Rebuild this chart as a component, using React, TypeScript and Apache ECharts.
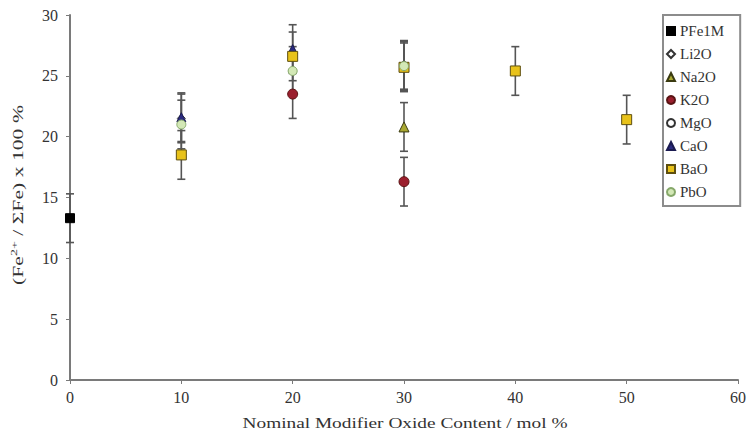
import React, { useEffect, useRef } from "react";
import * as echarts from "echarts";

// ---- data ----
const xTickValues = [0, 10, 20, 30, 40, 50, 60];
const pfe1m = [[0, 13.3]];
const li2o = [[10, 21.5]];
const na2o = [[30, 20.8]];
const k2o = [[20, 23.5], [30, 16.3]];
const mgo = [[30, 25.9]];
const cao = [[10, 21.6], [20, 27.2]];
const bao = [[10, 18.5], [20, 26.6], [30, 25.7], [40, 25.4], [50, 21.4]];
const pbo = [[10, 21.0], [20, 25.4], [30, 25.8]];
const errorHalfWidth = 2;
const xTitle = "Nominal Modifier Oxide Content / mol %";
const yTitle = "(Fe{sup|2+} / ΣFe) x 100 %";

const seriesDefs = [
  { name: "PFe1M", data: pfe1m, symbol: "rect", size: 9, fill: "#000000", border: "#000000" },
  { name: "Li2O", data: li2o, symbol: "diamond", size: 8, fill: "#ffffff", border: "#333333" },
  { name: "Na2O", data: na2o, symbol: "triangle", size: 10, fill: "#a9a832", border: "#3a3a10" },
  { name: "K2O", data: k2o, symbol: "circle", size: 10, fill: "#9b1f2e", border: "#5a1414" },
  { name: "MgO", data: mgo, symbol: "circle", size: 7, fill: "#ffffff", border: "#333333" },
  { name: "CaO", data: cao, symbol: "triangle", size: 9, fill: "#2b2b80", border: "#1a1a50" },
  { name: "BaO", data: bao, symbol: "rect", size: 10, fill: "#e8c21a", border: "#5e4f10" },
  { name: "PbO", data: pbo, symbol: "circle", size: 9, fill: "#d3e8b6", border: "#86a86a" },
];

export default function App() {
  const ref = useRef<HTMLDivElement>(null);
  useEffect(() => {
    if (!ref.current) return;
    const chart = echarts.init(ref.current, undefined, { renderer: "svg" });
    const errData: number[][] = [];
    seriesDefs.forEach((s) =>
      s.data.forEach((p) => errData.push([p[0], p[1] - errorHalfWidth, p[1] + errorHalfWidth]))
    );
    const serif = "'Liberation Serif', 'Times New Roman', serif";
    const option: any = {
      animation: false,
      backgroundColor: "#ffffff",
      grid: { left: 70, right: 9, top: 15, bottom: 59, containLabel: false },
      legend: {
        orient: "vertical",
        left: 663,
        top: 15,
        padding: [8, 16, 6, 3],
        itemWidth: 8,
        itemHeight: 8,
        itemGap: 7,
        backgroundColor: "#ffffff",
        borderColor: "#8c8c8c",
        borderWidth: 2,
        textStyle: { fontFamily: serif, fontSize: 15, lineHeight: 16, color: "#333333" },
        data: seriesDefs.map((s) => s.name),
      },
      graphic: [
        {
          type: "text",
          x: 405,
          y: 423,
          scaleX: 1.38,
          style: {
            text: xTitle,
            font: `14px ${serif}`,
            fill: "#333333",
            textAlign: "center",
            textVerticalAlign: "middle",
          },
        },
        {
          type: "text",
          x: 18,
          y: 195,
          rotation: Math.PI / 2,
          scaleX: 1.55,
          style: {
            text: yTitle,
            font: `14px ${serif}`,
            fill: "#333333",
            textAlign: "center",
            textVerticalAlign: "middle",
            rich: {
              sup: { fontFamily: serif, fontSize: 9, fill: "#333333", padding: [0, 0, 8, 0] },
            },
          },
        },
      ],
      xAxis: {
        type: "value",
        min: 0,
        max: 60,
        interval: 10,
        axisLine: { show: true, lineStyle: { color: "#7a7a7a", width: 2 } },
        axisTick: { show: true, inside: false, length: 4, lineStyle: { color: "#7a7a7a" } },
        axisLabel: { fontFamily: serif, fontSize: 16, color: "#333333", margin: 9 },
        splitLine: { show: false },
      },
      yAxis: {
        type: "value",
        min: 0,
        max: 30,
        interval: 5,
        axisLine: { show: true, lineStyle: { color: "#7a7a7a", width: 2 } },
        axisTick: { show: true, inside: false, length: 4, lineStyle: { color: "#7a7a7a" } },
        axisLabel: { fontFamily: serif, fontSize: 16, color: "#333333", margin: 12 },
        splitLine: { show: false },
      },
      series: [
        {
          type: "custom",
          name: "errors",
          z: 1,
          silent: true,
          data: errData,
          renderItem: (params: any, api: any) => {
            const x = api.value(0);
            const lo = api.coord([x, api.value(1)]);
            const hi = api.coord([x, api.value(2)]);
            const cap = 4;
            const style = { stroke: "#555555", lineWidth: 1.6 };
            return {
              type: "group",
              children: [
                { type: "line", shape: { x1: lo[0], y1: lo[1], x2: hi[0], y2: hi[1] }, style },
                { type: "line", shape: { x1: lo[0] - cap, y1: lo[1], x2: lo[0] + cap, y2: lo[1] }, style },
                { type: "line", shape: { x1: hi[0] - cap, y1: hi[1], x2: hi[0] + cap, y2: hi[1] }, style },
              ],
            };
          },
        },
        ...seriesDefs.map((s) => ({
          type: "scatter",
          name: s.name,
          z: 3,
          data: s.data,
          symbol: s.symbol,
          symbolSize: s.size,
          itemStyle: { color: s.fill, borderColor: s.border, borderWidth: 1, opacity: 1 },
        })),
      ],
    };
    chart.setOption(option);
    return () => chart.dispose();
  }, []);
  return (
    <div
      ref={ref}
      style={{ position: "fixed", left: 0, top: 0, width: 749, height: 439, background: "#fff" }}
    />
  );
}
